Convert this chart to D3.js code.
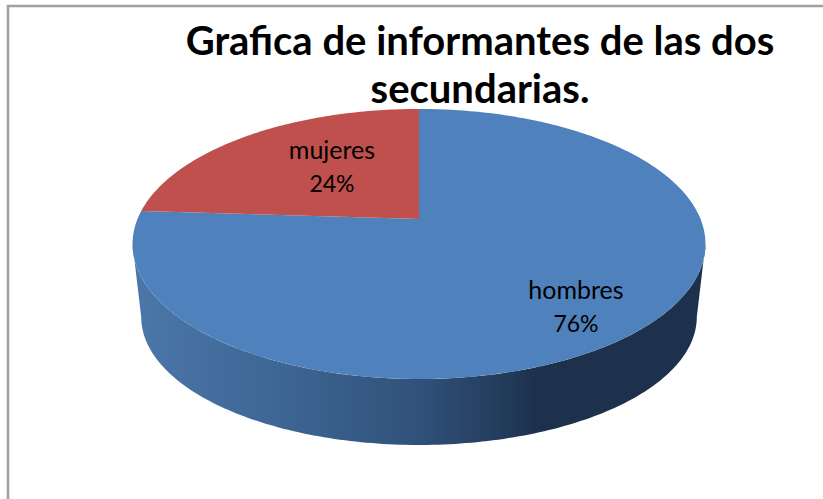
<html>

<head>
  <meta charset="UTF-8">
  <title>Grafica de informantes</title>
  <style>
    body {
      margin: 0;
      padding: 0;
      background-color: #fff;
    }

    svg {
      display: block;
    }

    text {
      font-family: Lato, "Open Sans", sans-serif;
      fill: #000;
    }
  </style>
</head>

<body>
  <div id="chart"></div>

  <script src="https://cdnjs.cloudflare.com/ajax/libs/d3/7.8.4/d3.min.js"></script>
  <script>
    // Data
    const categories = ["hombres", "mujeres"];
    const shares = [76, 24];
    const sliceColors = ["#4f81bd", "#c0504d"];
    const titleLines = ["Grafica de informantes de las dos", "secundarias."];

    const width = 823;
    const height = 499;

    const svg = d3.select("#chart")
      .append("svg")
      .attr("width", width)
      .attr("height", height);

    // Tilted disc: the pie centre is not the middle of the ellipse
    const tilt = 0.185;
    const topRim = { cx: 419, cy: 219, rx: 281.5, ry: 130.4 };
    const bottomRim = { cx: 419, cy: 293.3, rx: 273, ry: 123.6 };

    function project(angle, rim) {
      const u = Math.sin(angle);
      const v = Math.cos(angle);
      const w = 1 + tilt * v;
      return [rim.cx + u * rim.rx / w, rim.cy - v * rim.ry / w];
    }

    function rimPoints(a0, a1, rim) {
      const steps = Math.max(2, Math.ceil(Math.abs(a1 - a0) * 60));
      return d3.range(steps + 1).map(i => project(a0 + (a1 - a0) * i / steps, rim));
    }

    const line = d3.line();

    // Frame (only top and left edges show)
    svg.append("path")
      .attr("d", line([[8, height], [8, 6], [width, 6]]))
      .attr("fill", "none")
      .attr("stroke", "#a0a0a0")
      .attr("stroke-width", 2.5);

    // Title
    svg.selectAll("text.title")
      .data(titleLines)
      .enter()
      .append("text")
      .attr("class", "title")
      .attr("x", 480)
      .attr("y", (d, i) => 55 + i * 48)
      .attr("text-anchor", "middle")
      .attr("font-size", 40)
      .attr("font-weight", 700)
      .text(d => d);

    // Side wall shading
    const wallStops = [
      [0, "#4a76a8"],
      [0.25, "#3e6694"],
      [0.5, "#30517a"],
      [0.66, "#223a59"],
      [0.71, "#1d314c"],
      [1, "#1d314c"]
    ];
    const gradient = svg.append("defs")
      .append("linearGradient")
      .attr("id", "wall")
      .attr("gradientUnits", "userSpaceOnUse")
      .attr("x1", 141)
      .attr("x2", 697)
      .attr("y1", 0)
      .attr("y2", 0);
    gradient.selectAll("stop")
      .data(wallStops)
      .enter()
      .append("stop")
      .attr("offset", d => d[0])
      .attr("stop-color", d => d[1]);

    // Front half of the rims, between the widest points of the ellipse
    const sideAngle = Math.acos(-tilt);
    const frontTop = rimPoints(sideAngle, 2 * Math.PI - sideAngle, topRim);
    const frontBottom = rimPoints(2 * Math.PI - sideAngle, sideAngle, bottomRim);

    svg.append("path")
      .attr("d", line(frontTop.concat(frontBottom)) + "Z")
      .attr("fill", "url(#wall)");

    // Top face, one slice per category
    const pie = d3.pie().sort(null);
    const arcs = pie(shares);

    svg.selectAll("path.slice")
      .data(arcs)
      .enter()
      .append("path")
      .attr("class", "slice")
      .attr("d", d => line([[topRim.cx, topRim.cy]].concat(rimPoints(d.startAngle, d.endAngle, topRim))) + "Z")
      .attr("fill", (d, i) => sliceColors[i]);

    // Data labels
    const labelX = d3.scaleOrdinal().domain(categories).range([576, 332]);
    const labelY = d3.scaleOrdinal().domain(categories).range([299, 159]);

    categories.forEach((name, i) => {
      const label = svg.append("text")
        .attr("text-anchor", "middle");
      label.append("tspan")
        .attr("x", labelX(name))
        .attr("y", labelY(name))
        .attr("font-size", 25)
        .text(name);
      label.append("tspan")
        .attr("x", labelX(name))
        .attr("y", labelY(name) + 33)
        .attr("font-size", 23)
        .text(shares[i] + "%");
    });
  </script>
</body>

</html>
